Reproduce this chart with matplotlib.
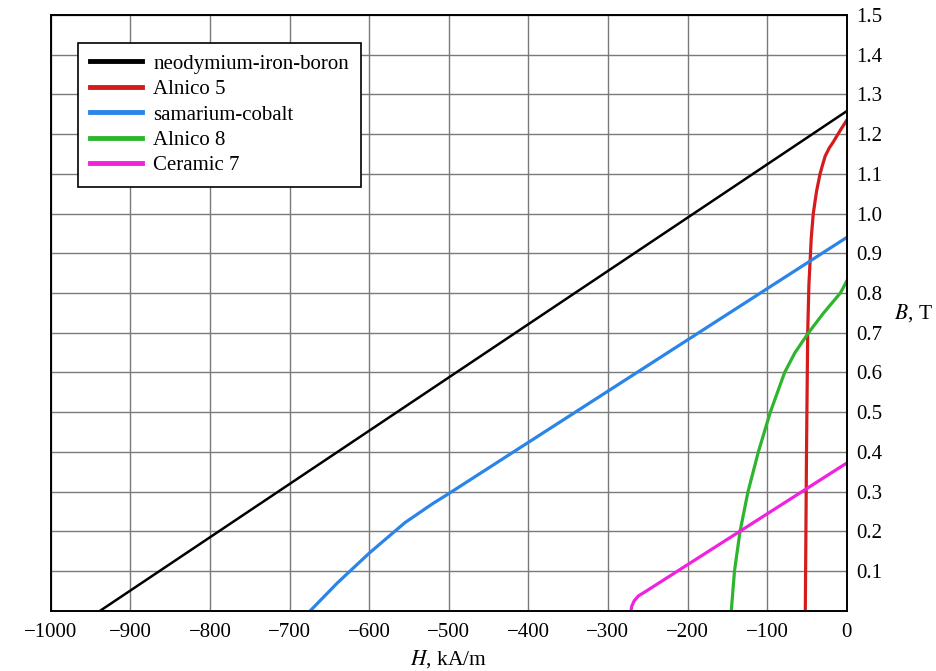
import matplotlib.pyplot as plt

plt.rcParams['font.family'] = ['Liberation Serif', 'DejaVu Serif']
plt.rcParams['mathtext.fontset'] = 'stix'

# demagnetisation curves, H in kA/m, B in T
ndfeb_H = [-938, 0]
ndfeb_B = [0.0, 1.258]

alnico5_H = [-52, -50.5, -49, -47.5, -46, -44.5, -42, -38, -33.5, -30, -27, -22, -17, -8, 0]
alnico5_B = [0.0, 0.4, 0.7, 0.82, 0.88, 0.94, 1.0, 1.055, 1.1, 1.125, 1.145, 1.165, 1.18, 1.21, 1.235]

smco_H = [-674, -640, -600, -555, -520, -500, 0]
smco_B = [0.0, 0.07, 0.145, 0.222, 0.27, 0.295, 0.94]

alnico8_H = [-145, -141, -134, -124, -111, -96, -78, -65, -48, -29, -8, 0]
alnico8_B = [0.0, 0.1, 0.2, 0.3, 0.4, 0.5, 0.6, 0.65, 0.7, 0.75, 0.8, 0.83]

ceramic7_H = [-271, -270, -267, -262, -250, -200, 0]
ceramic7_B = [0.0, 0.012, 0.025, 0.037, 0.052, 0.116, 0.372]

xticks = list(range(-1000, 1, 100))
yticks = [0.1 * i for i in range(1, 16)]

fig = plt.figure(figsize=(9.36, 6.71), dpi=100)
ax = fig.add_axes([0.0542, 0.0897, 0.8504, 0.8879])

ax.plot(ndfeb_H, ndfeb_B, color='black', lw=1.8, label='neodymium-iron-boron')
ax.plot(alnico5_H, alnico5_B, color='#d41c1c', lw=2.3, label='Alnico 5')
ax.plot(smco_H, smco_B, color='#2b84e8', lw=2.3, label='samarium-cobalt')
ax.plot(alnico8_H, alnico8_B, color='#2eb52e', lw=2.3, label='Alnico 8')
ax.plot(ceramic7_H, ceramic7_B, color='#f022e0', lw=2.3, label='Ceramic 7')

ax.set_xlim(-1000, 0)
ax.set_ylim(0, 1.5)
ax.set_xticks(xticks)
ax.set_xticklabels(['\u2212%d' % -v if v < 0 else '0' for v in xticks])
ax.set_yticks(yticks)
ax.set_yticklabels(['%.1f' % v for v in yticks])
ax.yaxis.tick_right()
ax.tick_params(axis='both', length=0, labelsize=15)
ax.tick_params(axis='x', pad=9)
ax.tick_params(axis='y', pad=7)
ax.grid(True, color='#7a7a7a', lw=1.0)
ax.set_axisbelow(True)
for s in ax.spines.values():
    s.set_linewidth(1.4)

fig.text(449 / 936, 1 - 659 / 671, '$H$, kA/m', fontsize=15.5, ha='center', va='center')
fig.text(913 / 936, 1 - 313 / 671, '$B$, T', fontsize=15.5, ha='center', va='center')

leg = ax.legend(loc='upper left', bbox_to_anchor=(0.0347, 0.9535), borderaxespad=0,
                fontsize=15, frameon=True, fancybox=False, framealpha=1,
                edgecolor='black', handlelength=2.5, handletextpad=0.55,
                labelspacing=0.28, borderpad=0.55)
leg.get_frame().set_linewidth(1.2)
for line in leg.get_lines():
    line.set_linewidth(3.5)

fig.savefig('out.png', dpi=100)
